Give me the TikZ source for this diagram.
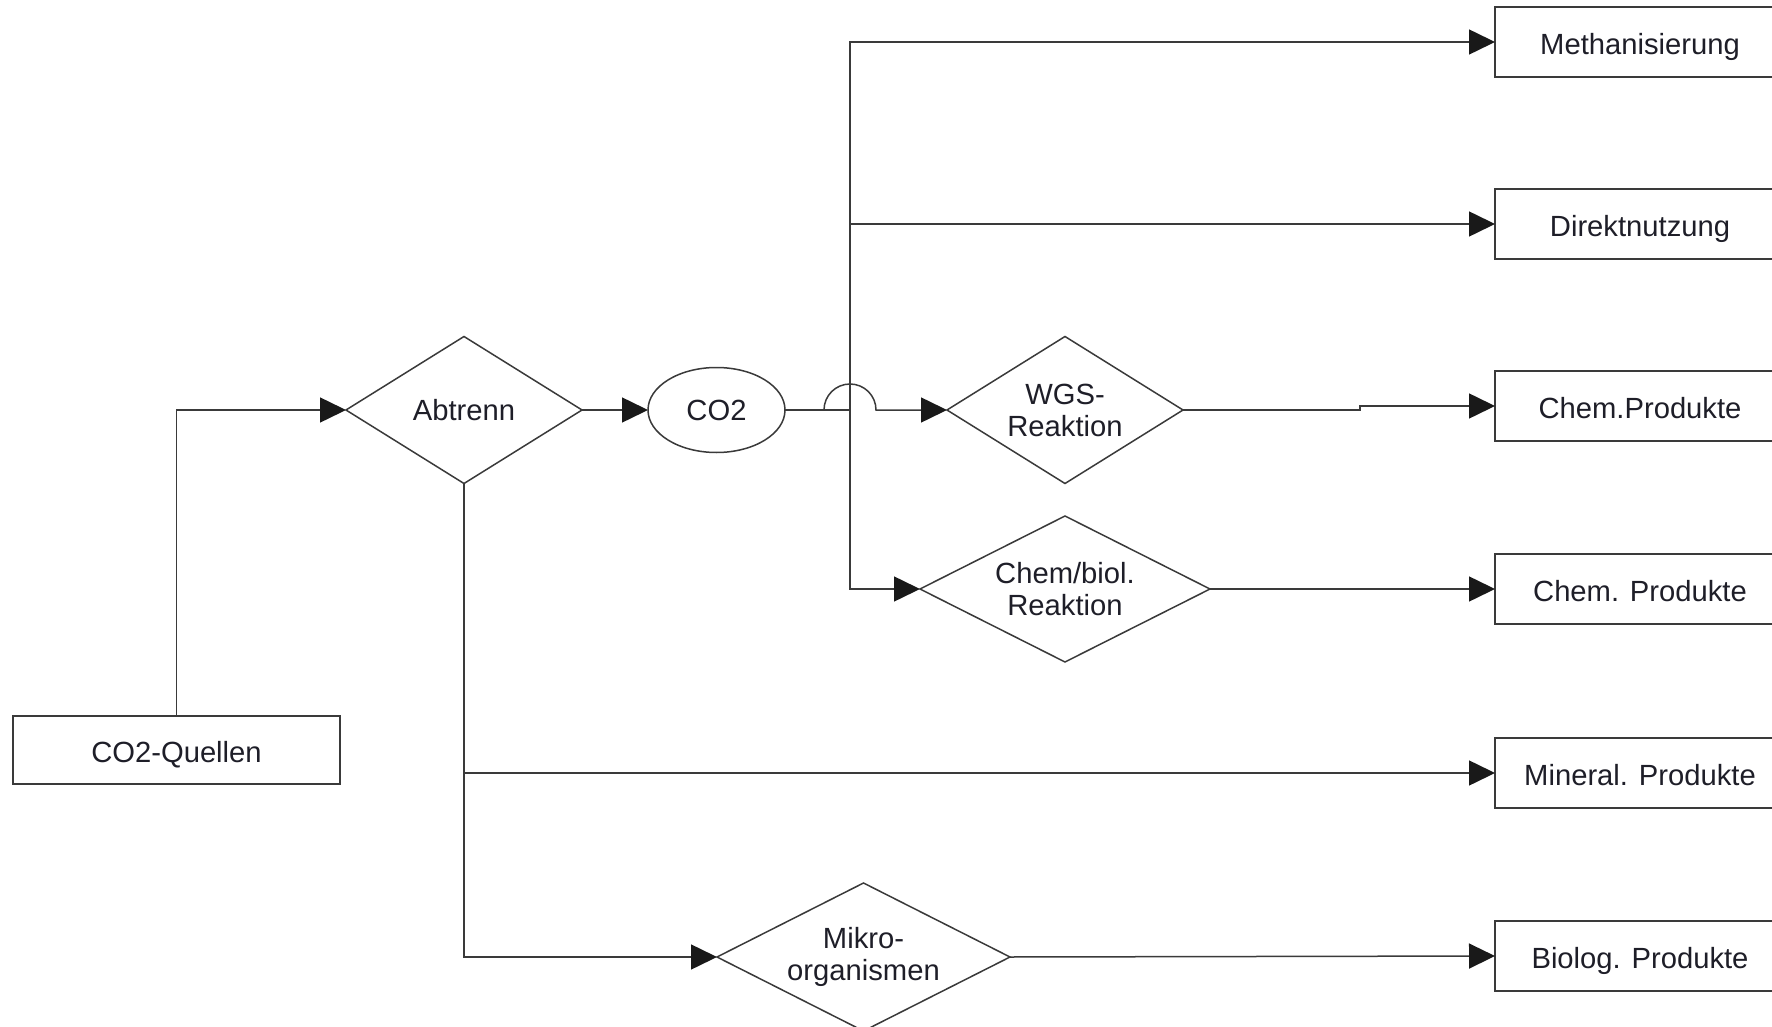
\documentclass[tikz,border=0pt]{standalone}
\usepackage{fontspec}
\setmainfont{Liberation Sans}
\usetikzlibrary{shapes.geometric,arrows.meta}
\definecolor{ln}{HTML}{3A3A3A}
\definecolor{tx}{HTML}{1E1E28}
\tikzset{
  conn/.style={draw=ln, line width=0.75pt},
  arr/.style={conn, -{Triangle[length=13pt,width=12.5pt,color=black!90]}},
  box/.style={conn, rectangle, inner sep=0pt, outer sep=0pt, minimum width=145pt, minimum height=35pt, text height=12.5pt, text depth=0pt},
  dia/.style={conn, diamond, aspect=2, inner sep=0pt, outer sep=0pt, align=center},
}
\begin{document}
\begin{tikzpicture}[x=0.5pt, y=-0.5pt, font=\fontsize{14.6}{16}\selectfont, text=tx]
\useasboundingbox (0,0) rectangle (1772,1027);
\clip (0,0) rectangle (1772,1027);
% nodes
\node[box, minimum width=163.5pt, minimum height=34pt] (Q) at (176.5,750) {CO2-Quellen};
\node[dia, minimum width=118pt, minimum height=73.5pt] (A) at (464,410) {Abtrenn};
\node[conn, ellipse, inner sep=0pt, outer sep=0pt, minimum width=68.5pt, minimum height=42.5pt] (C) at (716.5,410) {CO2};
\coordinate (J) at (850,410);
\node[dia, minimum width=118pt, minimum height=73.5pt] (W) at (1065,410) {WGS-\\Reaktion};
\node[dia, minimum width=145pt, minimum height=73pt] (CB) at (1065,589) {Chem/biol.\\Reaktion};
\node[dia, minimum width=146.5pt, minimum height=74pt] (MK) at (863.5,957) {Mikro-\\organismen};
\node[box] (M) at (1640,42) {Methanisierung};
\node[box] (D) at (1640,224) {Direktnutzung};
\node[box] (P1) at (1640,406) {Chem.Produkte};
\node[box] (P2) at (1640,589) {Chem. Produkte};
\node[box] (MP) at (1640,773) {Mineral. Produkte};
\node[box] (BP) at (1640,956) {Biolog. Produkte};
\coordinate (K) at (463,773);
\coordinate (H) at (824,410);
\coordinate (G) at (1360,410);
% connectors
\draw[arr] (Q.north) |- (A.west);
\draw[arr] (A.east) -- (C.west);
\draw[conn] (C.east) -- (J);
\draw[arr] (J) |- (M.west);
\draw[arr] (J) |- (D.west);
\draw[arr] (J) |- (CB.west);
\draw[arr] (C.east) -- (H) arc[start angle=180, end angle=0, radius=13pt] -- (W.west);
\draw[arr] (W.east) -- (G) |- (P1.west);
\draw[arr] (CB.east) -- (P2.west);
\draw[arr] (A.south) |- (MK.west);
\draw[arr] (K) -- (MP.west);
\draw[arr] (MK.east) -- (BP.west);
\end{tikzpicture}
\end{document}
